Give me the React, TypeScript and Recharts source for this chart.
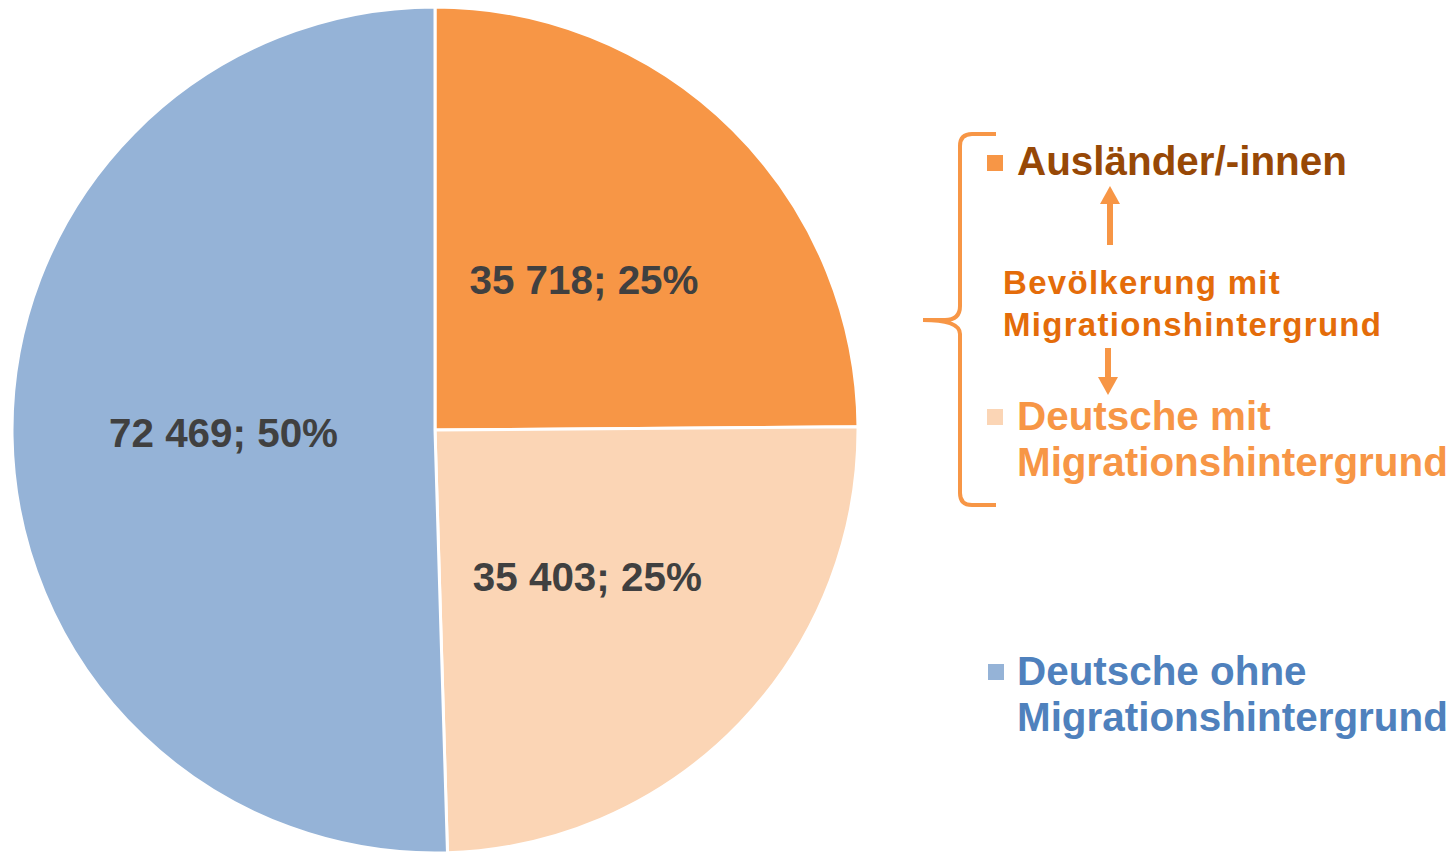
import { PieChart, Pie, Cell } from "recharts";

const categories = ["Ausländer/-innen", "Deutsche mit Migrationshintergrund", "Deutsche ohne Migrationshintergrund"];
const values = [35718, 35403, 72469];
const sliceColors = ["#F79646", "#FBD5B5", "#95B3D7"];

const FONT = "'Liberation Sans', Arial, sans-serif";
const RAD = Math.PI / 180;

const total = values.reduce((a, b) => a + b, 0);
const data = categories.map((name, i) => ({ name, value: values[i] }));

const fmt = (v: number) => String(v).replace(/\B(?=(\d{3})+(?!\d))/g, " ");

const renderLabel = (p: any) => {
  const r = p.outerRadius * 0.5;
  const x = p.cx + r * Math.cos(-p.midAngle * RAD);
  const y = p.cy + r * Math.sin(-p.midAngle * RAD);
  const pct = Math.round((p.value / total) * 100);
  return (
    <text
      x={x}
      y={y}
      textAnchor="middle"
      dominantBaseline="central"
      fill="#404040"
      fontSize={40.4}
      fontWeight="bold"
      fontFamily={FONT}
    >
      {`${fmt(p.value)}; ${pct}%`}
    </text>
  );
};

function LegendOverlay() {
  const orange = "#F79646";
  return (
    <svg width={1453} height={853} style={{ position: "absolute", left: 0, top: 0, pointerEvents: "none" }}>
      {/* brace */}
      <path
        d="M 996 134 L 972 134 Q 960 134 960 146 L 960 306 Q 960 320 945 320 L 923 320 Q 960 320 960 334 L 960 493 Q 960 505 972 505 L 996 505"
        fill="none"
        stroke={orange}
        strokeWidth={4}
      />
      {/* arrows */}
      <line x1={1110} y1={245} x2={1110} y2={200} stroke={orange} strokeWidth={6} />
      <polygon points="1110,186 1100,204 1120,204" fill={orange} />
      <line x1={1108} y1={348} x2={1108} y2={380} stroke={orange} strokeWidth={6} />
      <polygon points="1108,395 1098,377 1118,377" fill={orange} />

      <g fontFamily={FONT} fontWeight="bold">
        <rect x={987} y={155} width={16} height={16} fill={sliceColors[0]} />
        <text x={1017} y={175} fontSize={40.4} fill="#974806">Ausländer/-innen</text>

        <text x={1003} y={294} fontSize={33} letterSpacing={1.3} fill="#E46C0A">Bevölkerung  mit</text>
        <text x={1003} y={336} fontSize={33} letterSpacing={1.3} fill="#E46C0A">Migrationshintergrund</text>

        <rect x={987} y={409} width={16} height={16} fill={sliceColors[1]} />
        <text x={1017} y={430} fontSize={40.4} fill={orange}>Deutsche mit</text>
        <text x={1017} y={476} fontSize={40.4} fill={orange}>Migrationshintergrund</text>

        <rect x={988} y={664} width={16} height={16} fill={sliceColors[2]} />
        <text x={1017} y={685} fontSize={40.4} fill="#4F81BD">Deutsche ohne</text>
        <text x={1017} y={731} fontSize={40.4} fill="#4F81BD">Migrationshintergrund</text>
      </g>
    </svg>
  );
}

export default function App() {
  return (
    <div style={{ position: "absolute", left: 0, top: 0, width: 1453, height: 853, background: "#fff", overflow: "hidden" }}>
      <PieChart width={1453} height={853} margin={{ top: 0, right: 0, bottom: 0, left: 0 }}>
        <Pie
          data={data}
          dataKey="value"
          nameKey="name"
          cx={435}
          cy={430}
          outerRadius={423}
          startAngle={90}
          endAngle={-270}
          stroke="#fff"
          strokeWidth={3}
          label={renderLabel}
          labelLine={false}
          isAnimationActive={false}
        >
          {data.map((d, i) => (
            <Cell key={d.name} fill={sliceColors[i]} />
          ))}
        </Pie>
      </PieChart>
      <LegendOverlay />
    </div>
  );
}
